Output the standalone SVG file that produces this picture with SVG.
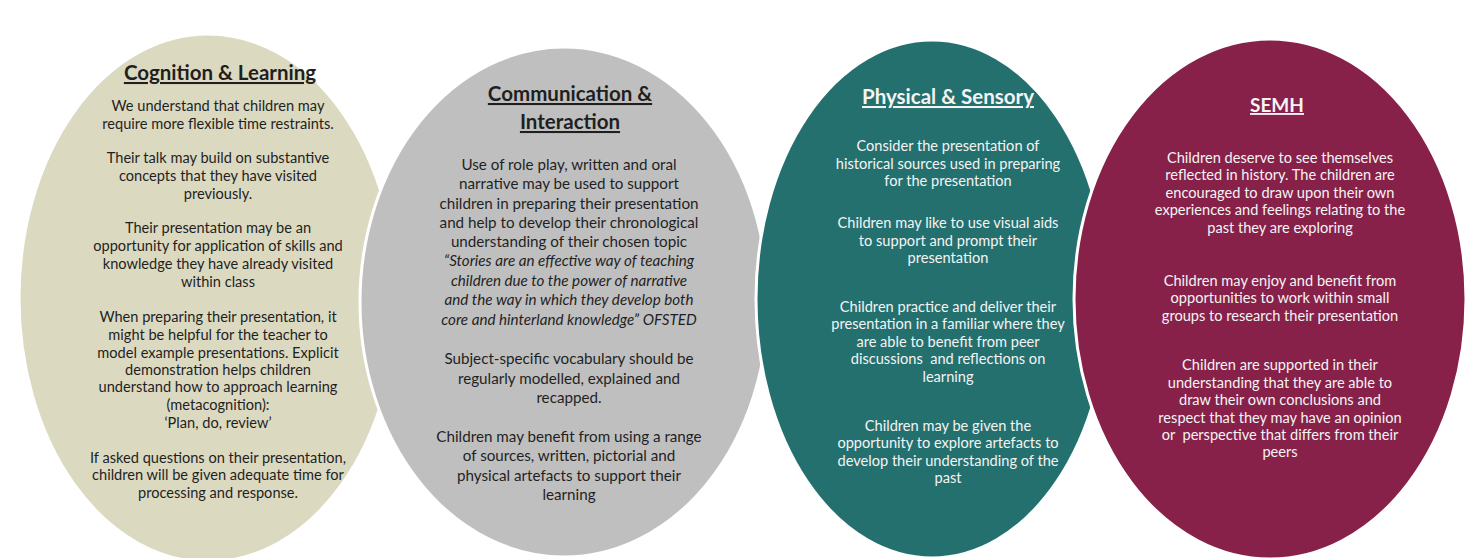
<svg xmlns="http://www.w3.org/2000/svg" width="1472" height="558" viewBox="0 0 1472 558">
  <style>
    .blob { stroke: #ffffff; stroke-width: 3; }
    text { font-family: Lato, "Liberation Sans", sans-serif; text-anchor: middle; }
    .title { font-weight: 700; font-size: 20.5px; text-decoration: underline; }
    .body { font-weight: 400; font-size: 14.6px; }
    .big { font-size: 15.2px; }
    .dark { fill: #1f1f1f; }
    .light { fill: #f4f4f4; }
    .quote { font-style: italic; }
  </style>
  <rect width="1472" height="558" fill="#ffffff"/>

  <!-- Cognition & Learning -->
  <g id="cognition-learning" class="dark">
    <ellipse class="blob" cx="208" cy="298" rx="189" ry="264" fill="#dcd9c1"/>
    <text class="title" x="220" y="80">Cognition &amp; Learning</text>
    <g class="body">
      <text x="218" y="111">We understand that children may</text>
      <text x="218" y="129">require more flexible time restraints.</text>
      <text x="218" y="163">Their talk may build on substantive</text>
      <text x="218" y="181">concepts that they have visited</text>
      <text x="218" y="199">previously.</text>
      <text x="218" y="233">Their presentation may be an</text>
      <text x="218" y="251">opportunity for application of skills and</text>
      <text x="218" y="269">knowledge they have already visited</text>
      <text x="218" y="287">within class</text>
      <text x="218" y="322">When preparing their presentation, it</text>
      <text x="218" y="340">might be helpful for the teacher to</text>
      <text x="218" y="358">model example presentations. Explicit</text>
      <text x="218" y="375">demonstration helps children</text>
      <text x="218" y="392">understand how to approach learning</text>
      <text x="218" y="410">(metacognition):</text>
      <text x="218" y="428">‘Plan, do, review’</text>
      <text x="218" y="463">If asked questions on their presentation,</text>
      <text x="218" y="480">children will be given adequate time for</text>
      <text x="218" y="498">processing and response.</text>
    </g>
  </g>

  <!-- Communication & Interaction -->
  <g id="communication-interaction" class="dark">
    <ellipse class="blob" cx="564" cy="302" rx="204" ry="255" fill="#bfbfbf"/>
    <text class="title" x="570" y="101">Communication &amp;</text>
    <text class="title" x="570" y="129">Interaction</text>
    <g class="body big">
      <text x="569" y="170">Use of role play, written and oral</text>
      <text x="569" y="189">narrative may be used to support</text>
      <text x="569" y="209">children in preparing their presentation</text>
      <text x="569" y="228">and help to develop their chronological</text>
      <text x="569" y="247">understanding of their chosen topic</text>
      <text class="quote" x="569" y="266">“Stories are an effective way of teaching</text>
      <text class="quote" x="569" y="286">children due to the power of narrative</text>
      <text class="quote" x="569" y="305">and the way in which they develop both</text>
      <text class="quote" x="569" y="325">core and hinterland knowledge” OFSTED</text>
      <text x="569" y="364">Subject-specific vocabulary should be</text>
      <text x="569" y="384">regularly modelled, explained and</text>
      <text x="569" y="403">recapped.</text>
      <text x="569" y="442">Children may benefit from using a range</text>
      <text x="569" y="461">of sources, written, pictorial and</text>
      <text x="569" y="481">physical artefacts to support their</text>
      <text x="569" y="500">learning</text>
    </g>
  </g>

  <!-- Physical & Sensory -->
  <g id="physical-sensory" class="light">
    <ellipse class="blob" cx="932" cy="299" rx="176" ry="259" fill="#24706f"/>
    <text class="title" x="948" y="104">Physical &amp; Sensory</text>
    <g class="body">
      <text x="948" y="151">Consider the presentation of</text>
      <text x="948" y="169">historical sources used in preparing</text>
      <text x="948" y="186">for the presentation</text>
      <text x="948" y="228">Children may like to use visual aids</text>
      <text x="948" y="246">to support and prompt their</text>
      <text x="948" y="263">presentation</text>
      <text x="948" y="312">Children practice and deliver their</text>
      <text x="948" y="329">presentation in a familiar where they</text>
      <text x="948" y="347">are able to benefit from peer</text>
      <text x="948" y="364" xml:space="preserve">discussions  and reflections on</text>
      <text x="948" y="382">learning</text>
      <text x="948" y="431">Children may be given the</text>
      <text x="948" y="448">opportunity to explore artefacts to</text>
      <text x="948" y="466">develop their understanding of the</text>
      <text x="948" y="483">past</text>
    </g>
  </g>

  <!-- SEMH -->
  <g id="semh" class="light">
    <ellipse class="blob" cx="1270" cy="299" rx="196" ry="260" fill="#87214a"/>
    <text class="title" x="1277" y="112" style="font-size:19px">SEMH</text>
    <g class="body">
      <text x="1280" y="163">Children deserve to see themselves</text>
      <text x="1280" y="180">reflected in history. The children are</text>
      <text x="1280" y="198">encouraged to draw upon their own</text>
      <text x="1280" y="215">experiences and feelings relating to the</text>
      <text x="1280" y="233">past they are exploring</text>
      <text x="1280" y="286">Children may enjoy and benefit from</text>
      <text x="1280" y="303">opportunities to work within small</text>
      <text x="1280" y="321">groups to research their presentation</text>
      <text x="1280" y="370">Children are supported in their</text>
      <text x="1280" y="388">understanding that they are able to</text>
      <text x="1280" y="405">draw their own conclusions and</text>
      <text x="1280" y="423">respect that they may have an opinion</text>
      <text x="1280" y="440" xml:space="preserve">or  perspective that differs from their</text>
      <text x="1280" y="457">peers</text>
    </g>
  </g>
</svg>
